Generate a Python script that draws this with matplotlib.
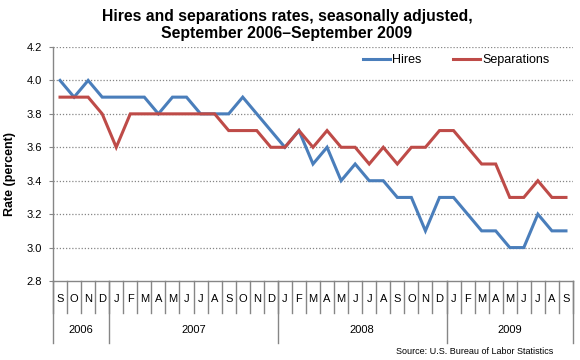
import matplotlib
matplotlib.use("Agg")
import matplotlib.pyplot as plt
import numpy as np

plt.rcParams['font.family'] = ['Liberation Sans', 'DejaVu Sans']

# Sep 2006 - Sep 2009, monthly
months = ["S", "O", "N", "D",
          "J", "F", "M", "A", "M", "J", "J", "A", "S", "O", "N", "D",
          "J", "F", "M", "A", "M", "J", "J", "A", "S", "O", "N", "D",
          "J", "F", "M", "A", "M", "J", "J", "A", "S"]
years = ["2006", "2007", "2008", "2009"]
months_per_year = [4, 12, 12, 9]

hires = [4.0, 3.9, 4.0, 3.9,
         3.9, 3.9, 3.9, 3.8, 3.9, 3.9, 3.8, 3.8, 3.8, 3.9, 3.8, 3.7,
         3.6, 3.7, 3.5, 3.6, 3.4, 3.5, 3.4, 3.4, 3.3, 3.3, 3.1, 3.3,
         3.3, 3.2, 3.1, 3.1, 3.0, 3.0, 3.2, 3.1, 3.1]
separations = [3.9, 3.9, 3.9, 3.8,
               3.6, 3.8, 3.8, 3.8, 3.8, 3.8, 3.8, 3.8, 3.7, 3.7, 3.7, 3.6,
               3.6, 3.7, 3.6, 3.7, 3.6, 3.6, 3.5, 3.6, 3.5, 3.6, 3.6, 3.7,
               3.7, 3.6, 3.5, 3.5, 3.3, 3.3, 3.4, 3.3, 3.3]

blue = "#4A7EBB"
red = "#BE4B48"
gray = "#868686"

fig = plt.figure(figsize=(5.8, 3.6), dpi=100)
ax = fig.add_axes([53/580, 1-281/360, 520/580, 234/360])

x = np.arange(len(months))
ax.plot(x, hires, color=blue, lw=2.2, label="Hires", solid_joinstyle="miter")
ax.plot(x, separations, color=red, lw=2.2, label="Separations", solid_joinstyle="miter")

ax.set_xlim(-0.5, len(months) - 0.5)
ax.set_ylim(2.8, 4.2)
ax.set_yticks(np.arange(2.8, 4.21, 0.2))
ax.set_yticklabels([f"{v:.1f}" for v in np.arange(2.8, 4.21, 0.2)], fontsize=8)
ax.tick_params(axis="y", length=3, color=gray, pad=5)
ax.set_xticks([])

for v in np.arange(3.0, 4.21, 0.2):
    ax.axhline(v, color=gray, lw=0.9, ls=(0, (1, 1.5)), zorder=0)

for s in ["top", "right"]:
    ax.spines[s].set_visible(False)
for s in ["left", "bottom"]:
    ax.spines[s].set_color(gray)
    ax.spines[s].set_linewidth(1)

ax.set_ylabel("Rate (percent)", fontsize=9, fontweight="bold")
ax.yaxis.set_label_coords(-0.071, 0.457)

# category axis: month labels, separators, year labels
tr = ax.get_xaxis_transform()
for i, m in enumerate(months):
    ax.text(i, -0.077, m, transform=tr, ha="center", va="center", fontsize=8)
for b in np.arange(len(months) + 1) - 0.5:
    ax.plot([b, b], [0, -0.137], transform=tr, color=gray, lw=1, clip_on=False)
edges = np.concatenate([[0], np.cumsum(months_per_year)]) - 0.5
for k, yr in enumerate(years):
    ax.plot([edges[k], edges[k]], [0, -0.265], transform=tr, color=gray, lw=1, clip_on=False)
    ax.text((edges[k] + edges[k+1]) / 2, -0.209, yr, transform=tr,
            ha="center", va="center", fontsize=8)
ax.plot([edges[-1], edges[-1]], [0, -0.265], transform=tr, color=gray, lw=1, clip_on=False)

ax.legend(loc="center", bbox_to_anchor=(456/580, 1-60/360), bbox_transform=fig.transFigure,
          ncol=2, frameon=False, fontsize=9, handlelength=2.15, handletextpad=0.2,
          columnspacing=2.5)

fig.text(287/580, 1-25/360, "Hires and separations rates, seasonally adjusted,\nSeptember 2006\u2013September 2009",
         ha="center", va="center", fontsize=11.3, fontweight="bold", linespacing=1.2)
fig.text(553/580, 1-352/360, "Source: U.S. Bureau of Labor Statistics",
         ha="right", va="center", fontsize=6.5)

fig.savefig("out.png", dpi=100)
